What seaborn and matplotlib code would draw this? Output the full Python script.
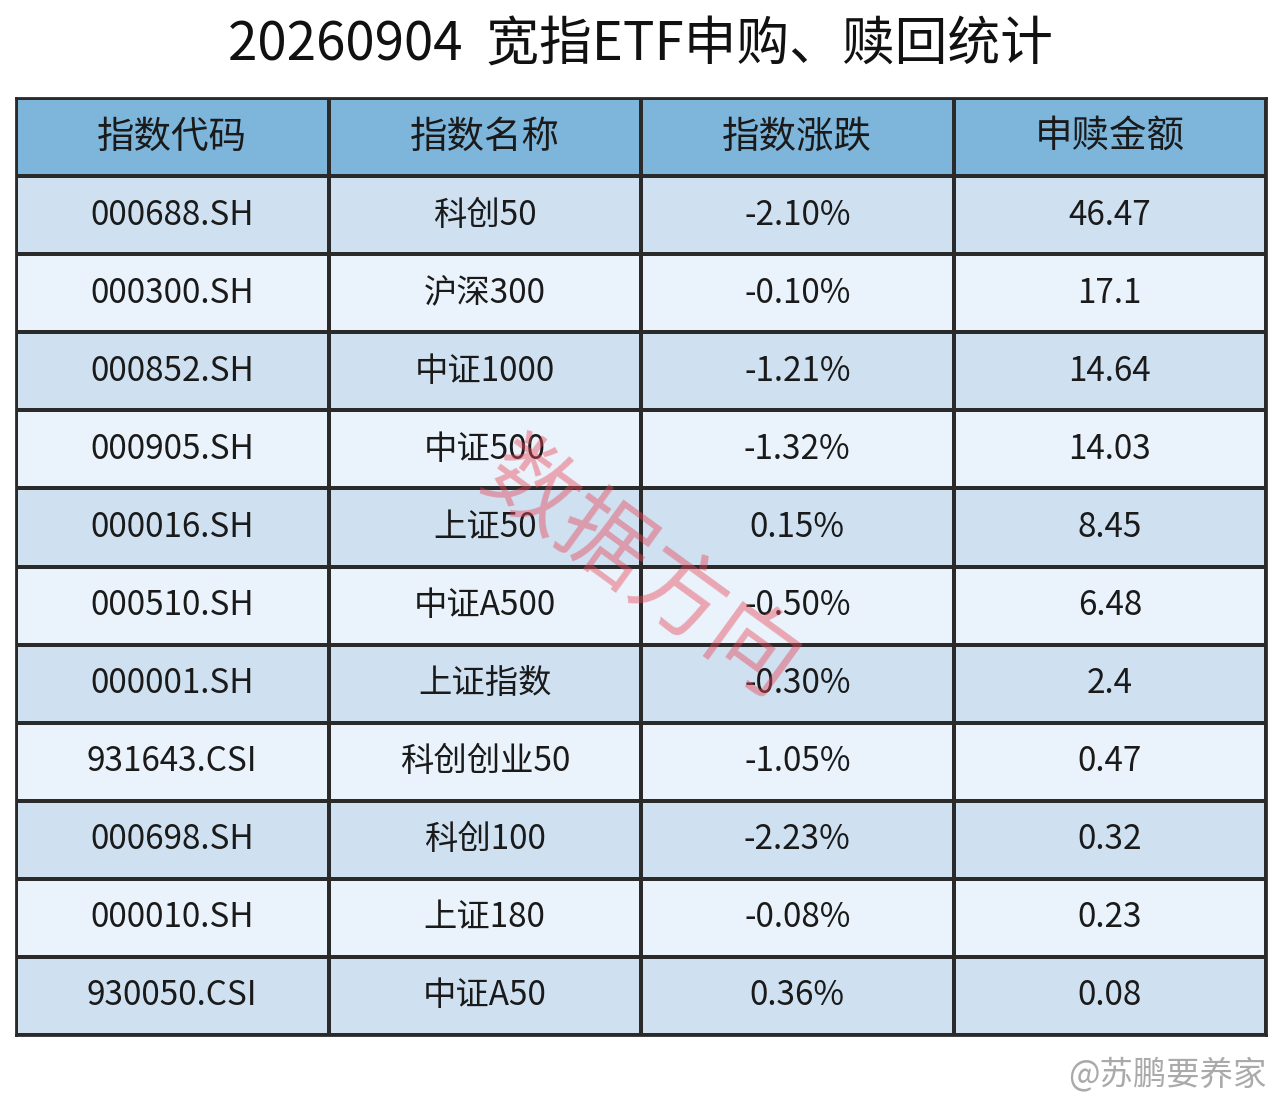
import numpy as np
import seaborn as sns
import matplotlib
matplotlib.use("Agg")
import matplotlib.pyplot as plt
from matplotlib.colors import ListedColormap

sns.set_theme(style="white")
plt.rcParams['font.family'] = ['Noto Sans CJK SC', 'DejaVu Sans']

title = "20260904  宽指ETF申购、赎回统计"
headers = ["指数代码", "指数名称", "指数涨跌", "申赎金额"]
codes = ["000688.SH", "000300.SH", "000852.SH", "000905.SH", "000016.SH", "000510.SH",
         "000001.SH", "931643.CSI", "000698.SH", "000010.SH", "930050.CSI"]
names = ["科创50", "沪深300", "中证1000", "中证500", "上证50", "中证A500",
         "上证指数", "科创创业50", "科创100", "上证180", "中证A50"]
changes = ["-2.10%", "-0.10%", "-1.21%", "-1.32%", "0.15%", "-0.50%",
           "-0.30%", "-1.05%", "-2.23%", "-0.08%", "0.36%"]
amounts = ["46.47", "17.1", "14.64", "14.03", "8.45", "6.48",
           "2.4", "0.47", "0.32", "0.23", "0.08"]

n = len(codes)
labels = [headers] + [[codes[i], names[i], changes[i], amounts[i]] for i in range(n)]
labels = np.array(labels, dtype=object)
vals = np.array([[2] * 4] + [[i % 2] * 4 for i in range(n)], dtype=float)
cmap = ListedColormap(["#cfe1f1", "#eaf3fb", "#7db5db"])

fig = plt.figure(figsize=(12.8, 11.05), dpi=100)
ax = fig.add_axes([16 / 1280, 70 / 1105, 1250 / 1280, 937 / 1105])
sns.heatmap(vals, ax=ax, cmap=cmap, vmin=-0.5, vmax=2.5, cbar=False,
            annot=labels, fmt="", linewidths=1.5, linecolor="#2a2a2a",
            annot_kws={"fontsize": 24, "color": "#1a1a1a"})
for t in ax.texts[:4]:
    t.set_fontsize(27)
ax.set_xticks([]); ax.set_yticks([])
for s in ax.spines.values():
    s.set_visible(True); s.set_color("#2a2a2a"); s.set_linewidth(2)

fig.text(0.5, 1 - 45 / 1105, title, ha="center", va="center", fontsize=38, color="#111111")
fig.text(640 / 1280, 1 - 572 / 1105, "数据方向", ha="center", va="center", fontsize=66,
         color="#e8475a", alpha=0.45, rotation=-36)
fig.text(1266 / 1280, 1 - 1075 / 1105, "@苏鹏要养家", ha="right", va="center",
         fontsize=24, color="#aaaaaa")
fig.savefig("out.png", dpi=100, facecolor="white")
